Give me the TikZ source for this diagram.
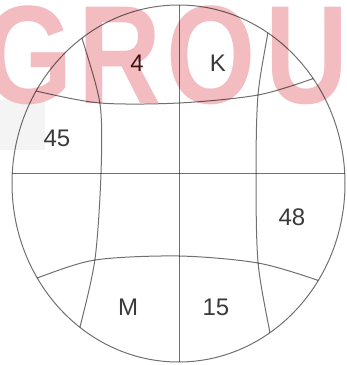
\documentclass[tikz,border=0pt]{standalone}
\usepackage{fontspec}
\setmainfont{Liberation Sans}
\usetikzlibrary{positioning}
\definecolor{gridGray}{HTML}{707070}
\definecolor{labelInk}{HTML}{3A3A3A}
\definecolor{markPink}{HTML}{F2BCC0}
\definecolor{markGray}{HTML}{F4F4F4}

\begin{document}
\begin{tikzpicture}[
  x=1pt,y=-1pt,
  grid/.style={draw=gridGray,line width=1pt},
  lbl/.style={font=\fontsize{24}{24}\selectfont,text=labelInk,inner sep=0pt},
  wm/.style={font=\fontsize{140}{140}\selectfont\bfseries,text=markPink,
    inner sep=0pt,anchor=base,xscale=0.82}
]
  \useasboundingbox (0,0) rectangle (347,365);

  % watermark
  \fill[markGray] (0,100) rectangle (45,150);
  \foreach \ch/\cx [count=\i] in {G/28,R/120,O/211,U/307}
    \node[wm] (mark\i) at (\cx,103) {\ch};

  \begin{scope}[blend mode=multiply]
    \begin{scope}
      \clip (178.5,183.5) ellipse [x radius=166.5pt,y radius=178.5pt];
      \draw[grid] (0,173) -- (347,173);
      \draw[grid] (179,0) -- (179,365);
      \draw[grid] plot[smooth] coordinates {(18,85) (36,91) (100,103) (179,103) (258,95) (315,78) (335,70)};
      \draw[grid] plot[smooth] coordinates {(18,286) (37,278) (95,260) (179,256) (258,263) (320,281) (338,290)};
      \draw[grid] plot[smooth] coordinates {(76,16) (82,38) (100,104) (101,173) (95,259) (80,327) (73,350)};
      \draw[grid] plot[smooth] coordinates {(271,10) (268,32) (258,95) (256,173) (258,262) (270,333) (275,356)};
    \end{scope}
    \draw[grid] (178.5,183.5) ellipse [x radius=166.5pt,y radius=178.5pt];

    \node[lbl,text=labelInk!70!red!60!black] (four) at (137,63) {4};
    \node[lbl] (kay)   at (218,63)  {K};
    \node[lbl] (ffive) at (57,138)  {45};
    \node[lbl] (feig)  at (292,217) {48};
    \node[lbl] (emm)   at (128,307) {M};
    \node[lbl] (fift)  at (216,307) {15};
  \end{scope}
\end{tikzpicture}
\end{document}
